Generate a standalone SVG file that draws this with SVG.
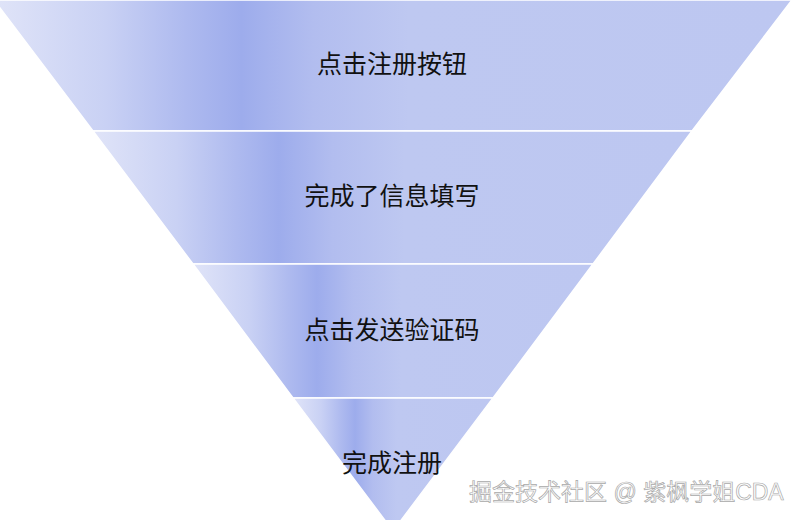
<svg xmlns="http://www.w3.org/2000/svg" width="791" height="520" viewBox="0 0 791 520">
  <defs>
    <linearGradient id="g" x1="0" y1="0" x2="1" y2="0">
      <stop offset="0" stop-color="#e0e4f8"/>
      <stop offset="0.14" stop-color="#c9d1f4"/>
      <stop offset="0.24" stop-color="#aebaef"/>
      <stop offset="0.31" stop-color="#9dacec"/>
      <stop offset="0.4" stop-color="#b2bdef"/>
      <stop offset="0.52" stop-color="#bec8f1"/>
      <stop offset="1" stop-color="#bdc7f1"/>
    </linearGradient>
    <style>
      .seg { fill: url(#g); stroke: #ffffff; stroke-width: 1.5; }
      .lbl { font-family: "Liberation Sans", "Noto Sans CJK SC", sans-serif; font-size: 25px; fill: #111111; text-anchor: middle; }
      .wm { font-family: "Liberation Sans", "Noto Sans CJK SC", sans-serif; font-size: 23px; fill: #ffffff; stroke: #a8a8a8; stroke-width: 0.7; }
    </style>
  </defs>
  <rect width="791" height="520" fill="#ffffff"/>
  <g id="stage1">
    <polygon class="seg" points="-6,0 792,0 692,131 93,131"/>
    <text class="lbl" x="392" y="73">点击注册按钮</text>
  </g>
  <g id="stage2">
    <polygon class="seg" points="93,131 692,131 593,264 193,264"/>
    <text class="lbl" x="392" y="205">完成了信息填写</text>
  </g>
  <g id="stage3">
    <polygon class="seg" points="193,264 593,264 493,398 293,398"/>
    <text class="lbl" x="392" y="339">点击发送验证码</text>
  </g>
  <g id="stage4">
    <polygon class="seg" points="293,398 493,398 393,531"/>
    <text class="lbl" x="392" y="472">完成注册</text>
  </g>
  <g id="connectors"/>
  <text class="wm" x="469" y="500">掘金技术社区 @ 紫枫学姐CDA</text>
</svg>
